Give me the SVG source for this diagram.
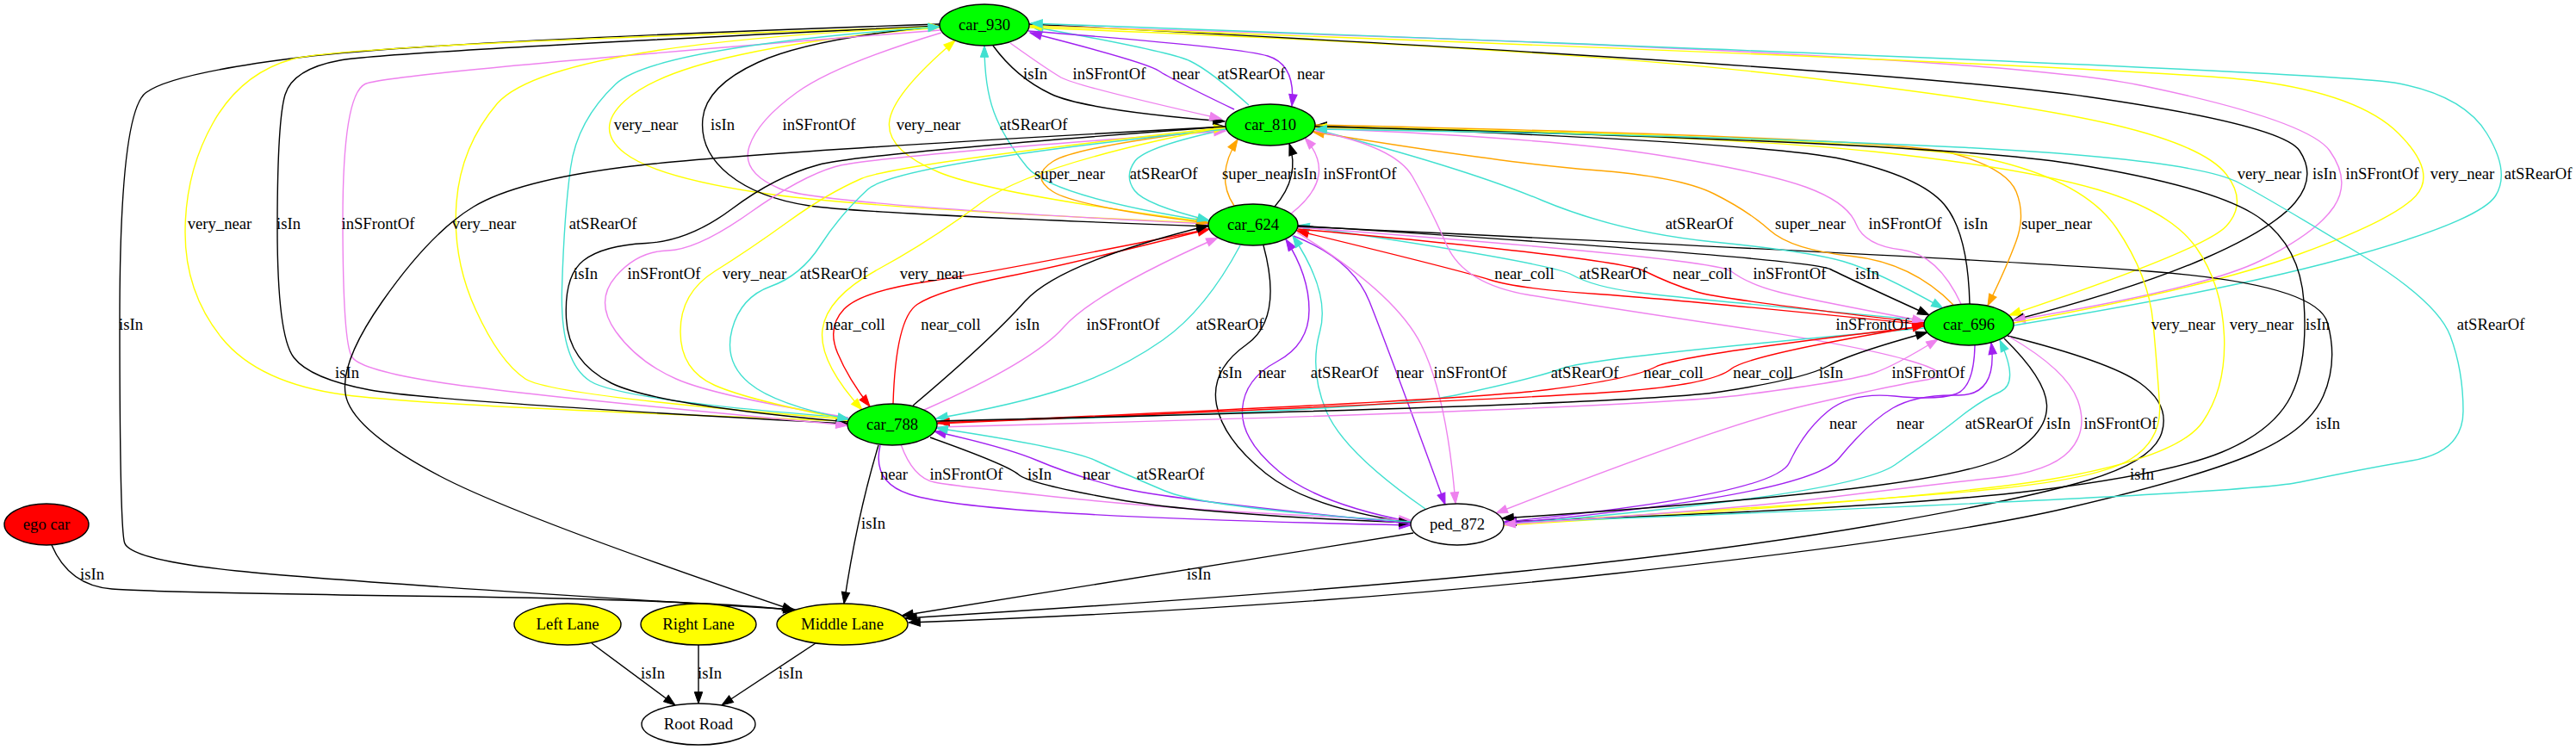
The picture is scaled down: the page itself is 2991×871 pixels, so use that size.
<svg xmlns="http://www.w3.org/2000/svg" width="2991" height="871" viewBox="0 0 2991 871">
<style>
.e{fill:none;stroke-width:1.4}
.k{stroke:#000000;marker-end:url(#ak)}
.v{stroke:#ee82ee;marker-end:url(#av)}
.t{stroke:#40e0d0;marker-end:url(#at)}
.p{stroke:#a020f0;marker-end:url(#ap)}
.y{stroke:#ffff00;marker-end:url(#ay)}
.o{stroke:#ffa500;marker-end:url(#ao)}
.r{stroke:#ff0000;marker-end:url(#ar)}
text{font-family:"Liberation Serif","Times New Roman",serif;font-size:18.67px;fill:#000}
.lb text{text-anchor:middle}
.n ellipse{stroke:#000;stroke-width:1.4}
.n text{text-anchor:middle}
.g{fill:#00ff00}
</style>
<defs>
<marker id="ak" viewBox="-1 -6 16 12" refX="13.3" refY="0" markerWidth="16" markerHeight="12" markerUnits="userSpaceOnUse" orient="auto"><path d="M0,-4.7 L13.3,0 L0,4.7 Z" fill="#000000" stroke="#000000"/></marker>
<marker id="av" viewBox="-1 -6 16 12" refX="13.3" refY="0" markerWidth="16" markerHeight="12" markerUnits="userSpaceOnUse" orient="auto"><path d="M0,-4.7 L13.3,0 L0,4.7 Z" fill="#ee82ee" stroke="#ee82ee"/></marker>
<marker id="at" viewBox="-1 -6 16 12" refX="13.3" refY="0" markerWidth="16" markerHeight="12" markerUnits="userSpaceOnUse" orient="auto"><path d="M0,-4.7 L13.3,0 L0,4.7 Z" fill="#40e0d0" stroke="#40e0d0"/></marker>
<marker id="ap" viewBox="-1 -6 16 12" refX="13.3" refY="0" markerWidth="16" markerHeight="12" markerUnits="userSpaceOnUse" orient="auto"><path d="M0,-4.7 L13.3,0 L0,4.7 Z" fill="#a020f0" stroke="#a020f0"/></marker>
<marker id="ay" viewBox="-1 -6 16 12" refX="13.3" refY="0" markerWidth="16" markerHeight="12" markerUnits="userSpaceOnUse" orient="auto"><path d="M0,-4.7 L13.3,0 L0,4.7 Z" fill="#ffff00" stroke="#ffff00"/></marker>
<marker id="ao" viewBox="-1 -6 16 12" refX="13.3" refY="0" markerWidth="16" markerHeight="12" markerUnits="userSpaceOnUse" orient="auto"><path d="M0,-4.7 L13.3,0 L0,4.7 Z" fill="#ffa500" stroke="#ffa500"/></marker>
<marker id="ar" viewBox="-1 -6 16 12" refX="13.3" refY="0" markerWidth="16" markerHeight="12" markerUnits="userSpaceOnUse" orient="auto"><path d="M0,-4.7 L13.3,0 L0,4.7 Z" fill="#ff0000" stroke="#ff0000"/></marker>
</defs>
<rect width="2991" height="871" fill="#ffffff"/>
<g id="edges">
<path class="e k" d="M1153,53 Q1180,90 1220,109 Q1260,128 1422,141"/>
<path class="e v" d="M1173,50 Q1215,80 1232,90 Q1250,100 1418,138"/>
<path class="e p" d="M1433,127 Q1360,92 1345,82 Q1330,72 1196,38"/>
<path class="e t" d="M1450,122 Q1405,82 1382,71 Q1360,60 1198,31"/>
<path class="e p" d="M1194,36 Q1440,55 1472,65 Q1505,75 1500,123"/>
<path class="e y" d="M1092,32 Q960,42 860,63.5 Q760,85 725,117.5 Q690,150 725,177.5 Q760,205 880,223.5 Q1000,242 1402,259"/>
<path class="e k" d="M1092,30 Q940,45 880,72.5 Q820,100 816,137.5 Q812,175 846,202.5 Q880,230 940,239 Q1000,248 1403,263"/>
<path class="e v" d="M1093,38 Q970,75 925,107.5 Q880,140 870,170 Q860,200 905,219 Q950,238 1403,260"/>
<path class="e y" d="M1403,258 Q1150,225 1090,200 Q1030,175 1032.5,142.5 Q1035,110 1109,47"/>
<path class="e t" d="M1403,257 Q1220,228 1192.5,194 Q1165,160 1154,130 Q1143,100 1143,53"/>
<path class="e o" d="M1424,149 Q1250,170 1222.5,187.5 Q1195,205 1222.5,222.5 Q1250,240 1403,259"/>
<path class="e t" d="M1425,150 Q1330,170 1317.5,187.5 Q1305,205 1317.5,221.5 Q1330,238 1404,256"/>
<path class="e o" d="M1433,239 Q1410,205 1437,162"/>
<path class="e k" d="M1480,240 Q1510,205 1497,167"/>
<path class="e v" d="M1498,249 Q1555,205 1515,160"/>
<path class="e y" d="M1195,32 Q1800,55 2075,87.5 Q2350,120 2455,145 Q2560,170 2585,202.5 Q2610,235 2585,262.5 Q2560,290 2333,366"/>
<path class="e k" d="M1195,28 Q2200,80 2425,112.5 Q2650,145 2670,175 Q2690,205 2665,235 Q2640,265 2560,300 Q2480,335 2337,372"/>
<path class="e v" d="M1195,30 Q2300,60 2490,100 Q2680,140 2705,175 Q2730,210 2710,240 Q2690,270 2625,302.5 Q2560,335 2338,372"/>
<path class="e y" d="M2338,375 Q2560,335 2670,295 Q2780,255 2805,227.5 Q2830,200 2785,155 Q2740,110 2620,94 Q2500,78 1196,30"/>
<path class="e t" d="M2338,378 Q2600,335 2740,295 Q2880,255 2897.5,227.5 Q2915,200 2887.5,155 Q2860,110 2780,96 Q2700,82 1197,27"/>
<path class="e k" d="M1091,28 Q500,48 350,66.5 Q200,85 169.5,107.5 Q139,130 139,370 Q139,610 144.5,630 Q150,650 275,663 Q400,676 923,708"/>
<path class="e y" d="M1092,31 Q400,52 340,68.5 Q280,85 247.5,142.5 Q215,200 215,270 Q215,340 257.5,392.5 Q300,445 400,458.5 Q500,472 985,489"/>
<path class="e k" d="M1091,30 Q450,60 395,70 Q340,80 331,110 Q322,140 322,265 Q322,390 341,415 Q360,440 430,453 Q500,466 984,492"/>
<path class="e v" d="M1092,35 Q450,85 424,97.5 Q398,110 398,255 Q398,400 409,415 Q420,430 510,444 Q600,458 984,494"/>
<path class="e y" d="M985,487 Q640,460 610,440 Q580,420 552.5,360 Q525,300 530,235 Q535,170 577.5,120 Q640,50 1092,31"/>
<path class="e t" d="M985,485 Q720,465 685,442.5 Q650,420 652.5,335 Q655,250 662.5,195 Q670,140 715,97.5 Q760,55 1091,31"/>
<path class="e k" d="M985,490 Q760,470 710,445 Q660,420 657.5,370 Q655,320 677.5,302.5 Q700,285 750,282.5 Q800,280 850,242.5 Q900,205 950,191.5 Q1000,178 1423,147"/>
<path class="e v" d="M985,485 Q830,460 785,440 Q740,420 715,385 Q690,350 715,321 Q740,292 775,291 Q810,290 870,247.5 Q930,205 970,193.5 Q1010,182 1423,152"/>
<path class="e y" d="M984,487 Q870,465 830,447.5 Q790,430 790,385 Q790,340 830,315 Q870,290 915,257.5 Q960,225 1000,207.5 Q1040,190 1423,148"/>
<path class="e t" d="M1423,150 Q1040,190 1007.5,220 Q975,250 952.5,285 Q930,320 895,332.5 Q860,345 850,382.5 Q840,420 870,445 Q900,470 986,487"/>
<path class="e y" d="M1423,147 Q1200,190 1140,235 Q1080,280 1020,312.5 Q960,345 955,382.5 Q950,420 1001,476"/>
<path class="e r" d="M1404,266 Q1160,315 1080,326.5 Q1000,338 980,359 Q960,380 972.5,410 Q985,440 1010,472"/>
<path class="e r" d="M1037,469 Q1040,370 1065,353.5 Q1090,337 1170,321 Q1250,305 1404,266"/>
<path class="e k" d="M1060,471 Q1150,395 1190,350 Q1230,305 1403,262"/>
<path class="e v" d="M1073,476 Q1200,420 1235,380 Q1270,340 1414,276"/>
<path class="e t" d="M1440,285 Q1400,360 1350,395 Q1300,430 1240,450 Q1180,470 1087,486"/>
<path class="e r" d="M2234,377 Q1950,348 1855,341.5 Q1760,335 1730,325 Q1700,315 1506,268"/>
<path class="e t" d="M2235,372 Q1950,346 1900,339.5 Q1850,333 1825,319 Q1800,305 1507,262"/>
<path class="e r" d="M1507,266 Q1880,300 1910,315 Q1940,330 1970,339 Q2000,348 2234,375"/>
<path class="e v" d="M1507,264 Q1990,300 2010,315 Q2030,330 2065,339 Q2100,348 2234,373"/>
<path class="e k" d="M1507,262 Q2100,300 2125,312.5 Q2150,325 2240,366"/>
<path class="e k" d="M1507,263 Q2300,300 2495,315 Q2690,330 2702.5,375 Q2715,420 2697.5,460 Q2680,500 2615,527.5 Q2550,555 2400,590 Q2250,625 1875,666 Q1500,707 1055,723"/>
<path class="e k" d="M2331,390 Q2450,420 2485,445 Q2520,470 2510,502.5 Q2500,535 2425,557.5 Q2350,580 2175,610 Q2000,640 1750,665 Q1500,690 1051,718"/>
<path class="e t" d="M1526,150 Q1700,195 1790,232.5 Q1880,270 1990,281 Q2100,292 2140,303.5 Q2180,315 2256,358"/>
<path class="e o" d="M2268,354 Q2220,305 2150,297.5 Q2080,290 2055,267.5 Q2030,245 1990,225 Q1950,205 1850,197.5 Q1750,190 1524,153"/>
<path class="e v" d="M2277,353 Q2250,295 2207.5,290 Q2165,285 2155,260 Q2145,235 2097.5,217.5 Q2050,200 1925,180 Q1800,160 1527,149"/>
<path class="e k" d="M2287,353 Q2285,270 2257.5,237.5 Q2230,205 2140,185 Q2050,165 1527,146"/>
<path class="e o" d="M1527,145 Q2200,160 2265,177.5 Q2330,195 2341,222.5 Q2352,250 2341,280 Q2330,310 2308,355"/>
<path class="e v" d="M1527,152 Q1620,170 1640,205 Q1660,240 1680,285 Q1700,330 1775,342.5 Q1850,355 2000,377.5 Q2150,400 2212.5,417.5 Q2275,435 2237.5,441 Q2200,447 2100,470 Q2000,493 1737,596"/>
<path class="e y" d="M1527,147 Q2200,160 2310,185 Q2420,210 2457.5,265 Q2495,320 2500,375 Q2505,430 2507.5,470 Q2510,510 2475,532.5 Q2440,555 2320,567.5 Q2200,580 1746,608"/>
<path class="e y" d="M1746,610 Q2250,580 2390,555 Q2530,530 2557.5,490 Q2585,450 2582.5,390 Q2580,330 2550,287.5 Q2520,245 2435,220 Q2350,195 2175,176 Q2000,157 1527,148"/>
<path class="e k" d="M1527,147 Q2250,165 2405,190 Q2560,215 2615,247.5 Q2670,280 2675,350 Q2680,420 2660,460 Q2640,500 2580,525 Q2520,550 2360,570 Q2200,590 1747,606"/>
<path class="e t" d="M1746,607 Q2600,575 2670,560 Q2740,545 2800,535 Q2860,525 2860,477.5 Q2860,430 2845,390 Q2830,350 2740,295 Q2650,240 2600,212.5 Q2550,185 2275,171 Q2000,157 1527,150"/>
<path class="e k" d="M1467,285 Q1490,370 1447.5,400 Q1405,430 1412.5,470 Q1420,510 1470,550 Q1520,590 1638,607"/>
<path class="e p" d="M1638,606 Q1530,585 1485,547.5 Q1440,510 1442.5,475 Q1445,440 1482.5,420 Q1520,400 1520,360 Q1520,320 1493,278"/>
<path class="e t" d="M1655,591 Q1560,525 1540,477.5 Q1520,430 1532.5,385 Q1545,340 1501,274"/>
<path class="e p" d="M1502,274 Q1570,300 1590,350 Q1610,400 1678,586"/>
<path class="e v" d="M1506,270 Q1620,340 1650,400 Q1680,460 1690,585"/>
<path class="e t" d="M2234,381 Q1850,415 1815,427.5 Q1780,440 1690,459 Q1600,478 1088,490"/>
<path class="e r" d="M2234,379 Q1950,412 1922.5,426 Q1895,440 1797.5,452.5 Q1700,465 1089,491"/>
<path class="e r" d="M1088,492 Q1800,462 1895,453.5 Q1990,445 2010,428.5 Q2030,412 2234,378"/>
<path class="e k" d="M1088,489 Q1900,470 1997.5,455 Q2095,440 2122.5,425 Q2150,410 2238,386"/>
<path class="e v" d="M1088,496 Q1900,475 2025,458.5 Q2150,442 2175,433.5 Q2200,425 2250,394"/>
<path class="e p" d="M2293,401 Q2292,450 2271,457.5 Q2250,465 2200,460 Q2150,455 2122.5,477.5 Q2095,500 2077.5,537.5 Q2060,575 1747,606"/>
<path class="e p" d="M1747,608 Q2100,575 2135,532.5 Q2170,490 2197.5,474 Q2225,458 2272.5,459 Q2320,460 2312,398"/>
<path class="e t" d="M1747,609 Q2150,575 2200,540 Q2250,505 2275,485 Q2300,465 2322.5,455 Q2345,445 2322,395"/>
<path class="e k" d="M2327,393 Q2375,440 2376.5,470 Q2378,500 2339,525 Q2300,550 2150,567.5 Q2000,585 1744,602"/>
<path class="e v" d="M2333,391 Q2400,430 2412.5,465 Q2425,500 2402.5,524 Q2380,548 2315,555 Q2250,562 2125,577.5 Q2000,593 1746,609"/>
<path class="e p" d="M1022,517 Q1012,560 1056,574 Q1100,588 1250,596.5 Q1400,605 1638,610"/>
<path class="e v" d="M1046,516 Q1060,555 1085,560 Q1110,565 1255,580 Q1400,595 1638,604"/>
<path class="e k" d="M1080,508 Q1170,540 1182.5,551 Q1195,562 1297.5,580 Q1400,598 1638,607"/>
<path class="e p" d="M1638,608 Q1350,580 1295,565 Q1240,550 1205,535 Q1170,520 1085,501"/>
<path class="e t" d="M1638,606 Q1400,590 1352.5,570 Q1305,550 1272.5,535 Q1240,520 1087,497"/>
<path class="e k" d="M1423,147 Q850,178 725,194 Q600,210 550,240 Q500,270 444,350 Q388,430 404,467.5 Q420,505 510,552.5 Q600,600 922,709"/>
<path class="e k" d="M1020,517 Q995,600 980,701"/>
<path class="e k" d="M1641,619 Q1420,655 1047,715"/>
<path class="e k" d="M60,633 Q80,680 130,684 Q180,688 505,692.5 Q830,697 923,709"/>
<path class="e k" d="M687,747 L784,819"/>
<path class="e k" d="M811,749 L811,817"/>
<path class="e k" d="M947,747 L838,819"/>
</g>
<g id="edge-labels" class="lb">
<text x="1202" y="92">isIn</text><text x="1288" y="92">inSFrontOf</text><text x="1377" y="92">near</text><text x="1453" y="92">atSRearOf</text><text x="1522" y="92">near</text>
<text x="750" y="151">very_near</text><text x="839" y="151">isIn</text><text x="951" y="151">inSFrontOf</text><text x="1078" y="151">very_near</text><text x="1200" y="151">atSRearOf</text>
<text x="1242" y="208">super_near</text><text x="1351" y="208">atSRearOf</text><text x="1460" y="208">super_near</text><text x="1515" y="208">isIn</text><text x="1579" y="208">inSFrontOf</text>
<text x="2635" y="208">very_near</text><text x="2699" y="208">isIn</text><text x="2766" y="208">inSFrontOf</text><text x="2859" y="208">very_near</text><text x="2947" y="208">atSRearOf</text>
<text x="255" y="266">very_near</text><text x="335" y="266">isIn</text><text x="439" y="266">inSFrontOf</text><text x="562" y="266">very_near</text><text x="700" y="266">atSRearOf</text>
<text x="1973" y="266">atSRearOf</text><text x="2102" y="266">super_near</text><text x="2212" y="266">inSFrontOf</text><text x="2294" y="266">isIn</text><text x="2388" y="266">super_near</text>
<text x="680" y="324">isIn</text><text x="771" y="324">inSFrontOf</text><text x="876" y="324">very_near</text><text x="968" y="324">atSRearOf</text><text x="1082" y="324">very_near</text>
<text x="1770" y="324">near_coll</text><text x="1873" y="324">atSRearOf</text><text x="1977" y="324">near_coll</text><text x="2078" y="324">inSFrontOf</text><text x="2168" y="324">isIn</text>
<text x="152" y="383">isIn</text><text x="993" y="383">near_coll</text><text x="1104" y="383">near_coll</text><text x="1193" y="383">isIn</text><text x="1304" y="383">inSFrontOf</text><text x="1428" y="383">atSRearOf</text>
<text x="2174" y="383">inSFrontOf</text><text x="2535" y="383">very_near</text><text x="2626" y="383">very_near</text><text x="2691" y="383">isIn</text><text x="2892" y="383">atSRearOf</text>
<text x="403" y="439">isIn</text><text x="1428" y="439">isIn</text><text x="1477" y="439">near</text><text x="1561" y="439">atSRearOf</text><text x="1637" y="439">near</text><text x="1707" y="439">inSFrontOf</text>
<text x="1840" y="439">atSRearOf</text><text x="1943" y="439">near_coll</text><text x="2047" y="439">near_coll</text><text x="2126" y="439">isIn</text><text x="2239" y="439">inSFrontOf</text>
<text x="2140" y="498">near</text><text x="2218" y="498">near</text><text x="2321" y="498">atSRearOf</text><text x="2390" y="498">isIn</text><text x="2462" y="498">inSFrontOf</text><text x="2703" y="498">isIn</text>
<text x="1038" y="557">near</text><text x="1122" y="557">inSFrontOf</text><text x="1207" y="557">isIn</text><text x="1273" y="557">near</text><text x="1359" y="557">atSRearOf</text><text x="2487" y="557">isIn</text>
<text x="1014" y="614">isIn</text>
<text x="107" y="673">isIn</text><text x="1392" y="673">isIn</text>
<text x="758" y="788">isIn</text><text x="824" y="788">isIn</text><text x="918" y="788">isIn</text>
</g>
<g id="car_930" class="n"><ellipse class="g" cx="1143" cy="29" rx="52" ry="24"/><text x="1143" y="35">car_930</text></g>
<g id="car_810" class="n"><ellipse class="g" cx="1475" cy="145" rx="52" ry="24"/><text x="1475" y="151">car_810</text></g>
<g id="car_624" class="n"><ellipse class="g" cx="1455" cy="261" rx="52" ry="24"/><text x="1455" y="267">car_624</text></g>
<g id="car_696" class="n"><ellipse class="g" cx="2286" cy="377" rx="52" ry="24"/><text x="2286" y="383">car_696</text></g>
<g id="car_788" class="n"><ellipse class="g" cx="1036" cy="493" rx="52" ry="24"/><text x="1036" y="499">car_788</text></g>
<g id="ped_872" class="n"><ellipse fill="#ffffff" cx="1692" cy="609" rx="54" ry="24"/><text x="1692" y="615">ped_872</text></g>
<g id="ego_car" class="n"><ellipse fill="#ff0000" cx="54" cy="609" rx="49" ry="24"/><text x="54" y="615">ego car</text></g>
<g id="left_lane" class="n"><ellipse fill="#ffff00" cx="659" cy="725" rx="62" ry="24"/><text x="659" y="731">Left Lane</text></g>
<g id="right_lane" class="n"><ellipse fill="#ffff00" cx="811" cy="725" rx="67" ry="24"/><text x="811" y="731">Right Lane</text></g>
<g id="middle_lane" class="n"><ellipse fill="#ffff00" cx="978" cy="725" rx="76" ry="24"/><text x="978" y="731">Middle Lane</text></g>
<g id="root_road" class="n"><ellipse fill="#ffffff" cx="811" cy="841" rx="66" ry="24"/><text x="811" y="847">Root Road</text></g>
</svg>
